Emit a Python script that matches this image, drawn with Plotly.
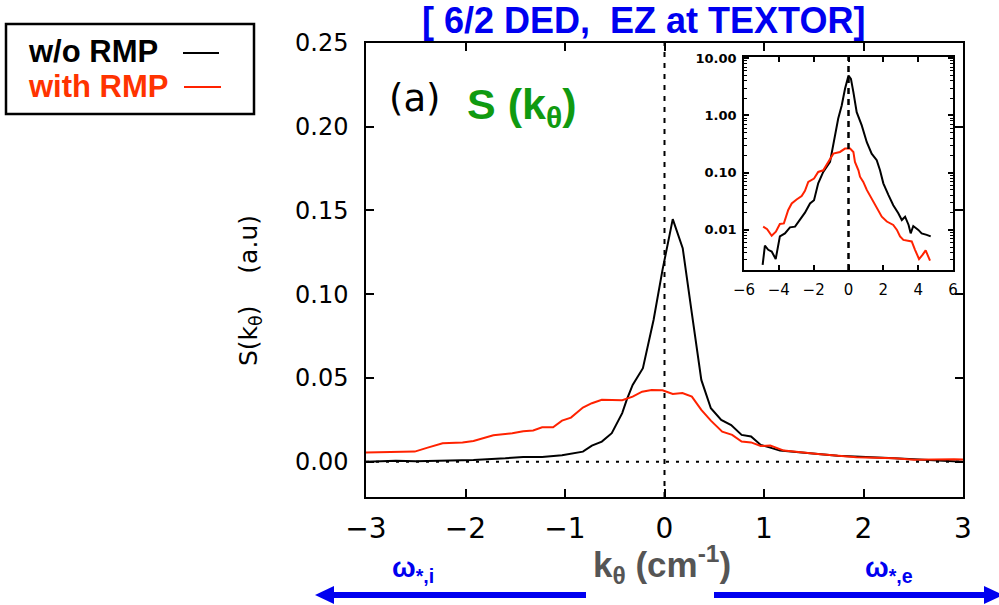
import plotly.graph_objects as go

# ---- main panel: S(k_theta) spectra, linear scale ----
k_black = [-3.0, -2.7, -2.5, -2.2, -1.92, -1.6, -1.42, -1.23, -1.03, -0.82, -0.73, -0.63,
           -0.53, -0.425, -0.38, -0.32, -0.217, -0.11, -0.02, 0.083, 0.183, 0.275, 0.37,
           0.466, 0.57, 0.67, 0.775, 0.87, 0.967, 1.063, 1.16, 1.35, 1.74, 2.31, 2.91, 3.0]
s_black = [0.0, 0.0005, 0.0003, 0.0008, 0.001, 0.002, 0.0028, 0.0028, 0.0038, 0.006, 0.0096,
           0.012, 0.017, 0.029, 0.0369, 0.0458, 0.0558, 0.0846, 0.1145, 0.1448, 0.1275,
           0.0886, 0.0488, 0.0319, 0.0249, 0.0219, 0.016, 0.015, 0.01, 0.0084, 0.0066,
           0.0056, 0.0036, 0.002, 0.0003, 0.0]

k_red = [-3.0, -2.69, -2.51, -2.38, -2.23, -2.03, -1.92, -1.72, -1.53, -1.42, -1.32, -1.23,
         -1.12, -1.03, -0.94, -0.82, -0.73, -0.63, -0.53, -0.425, -0.32, -0.225, -0.13,
         -0.02, 0.083, 0.18, 0.275, 0.37, 0.466, 0.58, 0.68, 0.775, 0.87, 0.967, 1.063,
         1.2, 1.54, 1.93, 2.31, 2.51, 2.91, 3.0]
s_red = [0.0054, 0.0055, 0.006, 0.0084, 0.011, 0.0115, 0.0124, 0.0158, 0.017, 0.0182,
         0.0186, 0.0205, 0.0205, 0.0245, 0.0263, 0.0323, 0.0349, 0.0369, 0.0367, 0.0367,
         0.0388, 0.0418, 0.0428, 0.0426, 0.0404, 0.041, 0.0388, 0.0309, 0.0245, 0.0179,
         0.016, 0.012, 0.0115, 0.0094, 0.0096, 0.0066, 0.0046, 0.0026, 0.0021, 0.0012,
         0.0015, 0.0013]

# ---- inset: same spectra on a log scale, wider k range ----
ki_black = [-4.93, -4.8, -4.61, -4.41, -4.18, -3.94, -3.65, -3.36, -3.07, -2.79, -2.5, -2.21,
            -1.98, -1.74, -1.45, -1.06, -0.87, -0.59, -0.39, -0.2, 0.0, 0.14, 0.28, 0.47,
            0.76, 1.05, 1.33, 1.62, 1.81, 2.0, 2.29, 2.57, 2.86, 3.06, 3.25, 3.45, 3.57,
            3.72, 4.01, 4.2, 4.49, 4.72]
si_black = [0.00245, 0.0053, 0.0045, 0.0042, 0.0031, 0.0077, 0.0087, 0.0111, 0.0114, 0.0149,
            0.020, 0.029, 0.033, 0.065, 0.103, 0.154, 0.30, 0.88, 1.49, 2.91, 4.97, 4.35,
            2.55, 1.14, 0.67, 0.34, 0.215, 0.165, 0.11, 0.065, 0.041, 0.027, 0.0195, 0.0149,
            0.017, 0.0122, 0.0087, 0.0117, 0.01, 0.0087, 0.0082, 0.0077]

ki_red = [-4.9, -4.67, -4.41, -4.17, -3.94, -3.71, -3.46, -3.26, -2.98, -2.69, -2.5, -2.31,
          -1.98, -1.74, -1.45, -1.16, -0.87, -0.49, -0.2, 0.09, 0.28, 0.37, 0.57, 0.66, 0.85,
          1.05, 1.33, 1.62, 1.91, 2.2, 2.57, 2.78, 2.96, 3.15, 3.34, 3.63, 3.82, 4.05, 4.26,
          4.43, 4.68]
si_red = [0.0114, 0.0103, 0.0079, 0.0093, 0.0127, 0.013, 0.0223, 0.029, 0.034, 0.039, 0.048,
          0.069, 0.079, 0.103, 0.11, 0.154, 0.215, 0.23, 0.263, 0.263, 0.23, 0.154, 0.11,
          0.085, 0.069, 0.050, 0.0356, 0.0255, 0.017, 0.014, 0.0122, 0.01, 0.0077, 0.0067,
          0.0066, 0.0063, 0.0045, 0.0031, 0.0037, 0.0044, 0.0029]

x_ticks = [-3, -2, -1, 0, 1, 2, 3]
y_ticks = [0.0, 0.05, 0.10, 0.15, 0.20, 0.25]
inset_x_ticks = [-6, -4, -2, 0, 2, 4, 6]
inset_y_ticks = [0.01, 0.1, 1, 10]
inset_y_text = ["0.01", "0.10", "1.00", "10.00"]
inset_minor = [m * 10.0 ** d for d in range(-3, 2) for m in range(2, 10)]

W, H = 999, 605
BLACK = "#000000"
RED = "#ff2200"
BLUE = "#0000f0"
GREEN = "#109a10"


def fx(p):
    return p / W


def fy(p):
    return 1 - p / H


fig = go.Figure()
fig.add_trace(go.Scatter(x=k_black, y=s_black, mode="lines", line=dict(color=BLACK, width=2),
                         xaxis="x", yaxis="y", showlegend=False))
fig.add_trace(go.Scatter(x=k_red, y=s_red, mode="lines", line=dict(color=RED, width=2),
                         xaxis="x", yaxis="y", showlegend=False))
fig.add_trace(go.Scatter(x=ki_black, y=si_black, mode="lines", line=dict(color=BLACK, width=2),
                         xaxis="x2", yaxis="y2", showlegend=False))
fig.add_trace(go.Scatter(x=ki_red, y=si_red, mode="lines", line=dict(color=RED, width=2),
                         xaxis="x2", yaxis="y2", showlegend=False))

axis_common = dict(showline=True, linecolor=BLACK, linewidth=1.5, mirror="ticks",
                   ticks="inside", tickcolor=BLACK, tickwidth=1.5, showgrid=False,
                   zeroline=False, automargin=False)

fig.update_layout(
    width=W, height=H,
    margin=dict(l=0, r=0, t=0, b=0, autoexpand=False),
    paper_bgcolor="white", plot_bgcolor="white",
    showlegend=False,
    xaxis=dict(domain=[fx(366), fx(963)], range=[-3, 3], tickvals=x_ticks, ticklen=8,
               tickfont=dict(family="DejaVu Sans", size=28, color=BLACK),
               ticklabelstandoff=6, anchor="y", **axis_common),
    yaxis=dict(domain=[fy(497), fy(43)], range=[-0.0211, 0.25], tickvals=y_ticks,
               tickformat=".2f", ticklen=8,
               tickfont=dict(family="DejaVu Sans", size=24, color=BLACK),
               ticklabelstandoff=11, anchor="x", **axis_common),
    xaxis2=dict(domain=[fx(744), fx(953)], range=[-6, 6], tickvals=inset_x_ticks, ticklen=5,
                tickfont=dict(family="DejaVu Sans", size=15, color=BLACK),
                ticklabelstandoff=5, anchor="y2", **axis_common),
    yaxis2=dict(domain=[fy(270), fy(57)], type="log", range=[-2.70, 1.02],
                tickvals=inset_y_ticks, ticktext=inset_y_text, ticklen=5,
                tickfont=dict(family="DejaVu Sans", size=13, color=BLACK, weight="bold"),
                ticklabelstandoff=3, anchor="x2",
                minor=dict(tickmode="array", tickvals=inset_minor, ticks="inside",
                           ticklen=3, tickcolor=BLACK, tickwidth=1),
                **axis_common),
)

shapes = [
    # zero reference lines, main panel
    dict(type="line", xref="x", yref="y domain", x0=0, x1=0, y0=0, y1=1,
         line=dict(color=BLACK, width=2, dash="5px,6px")),
    dict(type="line", xref="x domain", yref="y", x0=0, x1=1, y0=0, y1=0,
         line=dict(color=BLACK, width=2, dash="3px,7px")),
    # k = 0 line in the inset
    dict(type="line", xref="x2", yref="y2 domain", x0=0, x1=0, y0=0, y1=1,
         line=dict(color=BLACK, width=2.5, dash="6px,5px")),
    # legend box and its line samples
    dict(type="rect", xref="paper", yref="paper", x0=fx(6), x1=fx(254), y0=fy(114), y1=fy(24),
         line=dict(color=BLACK, width=2.5), fillcolor="rgba(0,0,0,0)"),
    dict(type="line", xref="paper", yref="paper", x0=fx(183), x1=fx(219), y0=fy(53), y1=fy(53),
         line=dict(color=BLACK, width=2)),
    dict(type="line", xref="paper", yref="paper", x0=fx(184), x1=fx(221), y0=fy(87), y1=fy(87),
         line=dict(color=RED, width=2)),
    # direction arrows (ion / electron diamagnetic)
    dict(type="rect", xref="paper", yref="paper", x0=fx(330), x1=fx(586), y0=fy(598), y1=fy(592),
         line=dict(width=0), fillcolor=BLUE),
    dict(type="path", xref="paper", yref="paper",
         path=f"M {fx(315)},{fy(595)} L {fx(334)},{fy(586)} L {fx(334)},{fy(604)} Z",
         line=dict(width=0), fillcolor=BLUE),
    dict(type="rect", xref="paper", yref="paper", x0=fx(714), x1=fx(986), y0=fy(598), y1=fy(592),
         line=dict(width=0), fillcolor=BLUE),
    dict(type="path", xref="paper", yref="paper",
         path=f"M {fx(1003)},{fy(595)} L {fx(984)},{fy(586)} L {fx(984)},{fy(604)} Z",
         line=dict(width=0), fillcolor=BLUE),
]
fig.update_layout(shapes=shapes)

NB = "\u00a0"
annotations = [
    dict(text=f"[ 6/2 DED,{NB}{NB}EZ at TEXTOR]", x=fx(643), y=fy(21),
         font=dict(family="Liberation Sans", size=36, color=BLUE, weight="bold")),
    dict(text="(a)", x=fx(415), y=fy(98),
         font=dict(family="DejaVu Sans", size=37, color=BLACK)),
    dict(text="S (k<sub>θ</sub>)", x=fx(521), y=fy(107),
         font=dict(family="Liberation Sans", size=43, color=GREEN, weight="bold")),
    dict(text=f"S(k<sub>θ</sub>){NB}{NB}{NB}{NB}(a.u)", x=fx(250), y=fy(291), textangle=-90,
         font=dict(family="DejaVu Sans", size=25, color=BLACK)),
    dict(text="k<sub>θ</sub> (cm<sup>-1</sup>)", x=fx(662), y=fy(564),
         font=dict(family="Liberation Sans", size=35, color="#555555", weight="bold")),
    dict(text="ω<sub>*,i</sub>", x=fx(413), y=fy(569),
         font=dict(family="Liberation Sans", size=28, color=BLUE, weight="bold")),
    dict(text="ω<sub>*,e</sub>", x=fx(889), y=fy(569),
         font=dict(family="Liberation Sans", size=28, color=BLUE, weight="bold")),
    dict(text="w/o RMP", x=fx(26), y=fy(51), xanchor="left",
         font=dict(family="Liberation Sans", size=31, color=BLACK, weight="bold")),
    dict(text="with RMP", x=fx(26), y=fy(86), xanchor="left",
         font=dict(family="Liberation Sans", size=31, color="#ff3300", weight="bold")),
]
for a in annotations:
    a.setdefault("xanchor", "center")
    a.update(xref="paper", yref="paper", yanchor="middle", showarrow=False)
fig.update_layout(annotations=annotations)

fig.write_html("out.html")
